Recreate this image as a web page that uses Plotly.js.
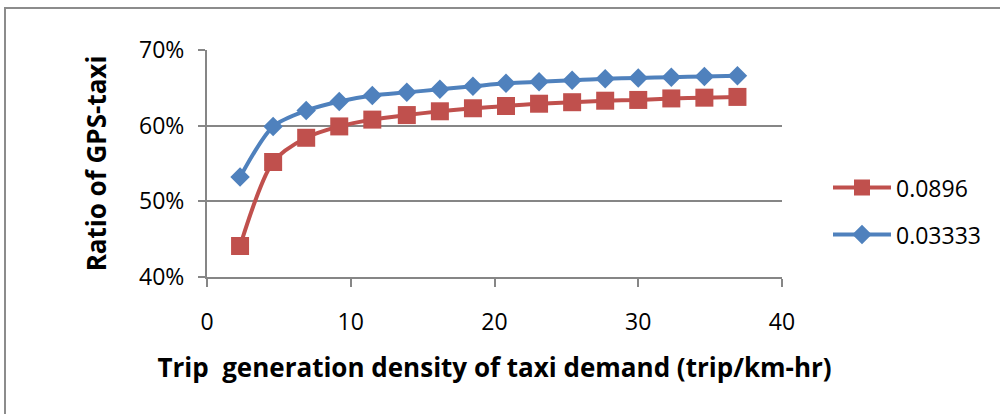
<!DOCTYPE html>
<html>
<head>
<meta charset="utf-8">
<script src="https://cdn.plot.ly/plotly-3.0.1.min.js"></script>
<style>
html,body{margin:0;padding:0;background:#fff;}
#chart{width:1000px;height:414px;}
</style>
</head>
<body>
<div id="chart"></div>
<script>
// Data
const tripDensity = [2.3, 4.6, 6.9, 9.2, 11.5, 13.9, 16.2, 18.5, 20.8, 23.1, 25.4, 27.7, 30.0, 32.3, 34.6, 36.9];
const ratio0896 = [44.1, 55.2, 58.4, 59.9, 60.8, 61.4, 61.9, 62.3, 62.6, 62.9, 63.1, 63.3, 63.4, 63.6, 63.7, 63.8];
const ratio03333 = [53.2, 59.9, 62.0, 63.2, 64.0, 64.4, 64.8, 65.2, 65.6, 65.8, 66.0, 66.2, 66.3, 66.4, 66.5, 66.6];
const seriesNames = ["0.0896", "0.03333"];
const yTickVals = [40, 50, 60, 70];
const yTickText = ["40%", "50%", "60%", "70%"];
const xTickVals = [0, 10, 20, 30, 40];

const FONT = "'Open Sans', sans-serif";

const traces = [
  {
    x: tripDensity, y: ratio0896, name: seriesNames[0], legendgroup: "a",
    mode: "lines+markers", type: "scatter",
    line: {color: "#C0504D", width: 4, shape: "spline", smoothing: 0.8},
    marker: {symbol: "square", size: 18, color: "#C0504D"}
  },
  {
    x: tripDensity, y: ratio03333, name: seriesNames[1], legendgroup: "b",
    mode: "lines+markers", type: "scatter",
    line: {color: "#4F81BD", width: 4, shape: "spline", smoothing: 0.8},
    marker: {symbol: "diamond", size: 15, color: "#4F81BD"}
  }
];

const layout = {
  width: 1000, height: 414, autosize: false,
  paper_bgcolor: "#fff", plot_bgcolor: "#fff",
  margin: {l: 207, r: 218, t: 50, b: 137},
  font: {family: FONT, size: 23, color: "#000"},
  showlegend: true,
  legend: {
    x: 1.08, y: 0.29, xanchor: "left", yanchor: "middle",
    traceorder: "grouped", tracegroupgap: 14,
    font: {family: FONT, size: 23, color: "#000"},
    itemwidth: 58, bgcolor: "rgba(0,0,0,0)"
  },
  xaxis: {
    range: [0, 40], tickvals: xTickVals, ticktext: xTickVals.map(String),
    showgrid: false, zeroline: false,
    showline: true, linecolor: "#868686", linewidth: 2,
    ticks: "outside", ticklen: 8, tickcolor: "#868686", tickwidth: 2,
    ticklabelstandoff: 15,
    tickfont: {family: FONT, size: 23, color: "#000"},
    title: {text: "Trip\u00a0 generation density of taxi demand (trip/km-hr)", standoff: 23,
            font: {family: FONT, size: 26, color: "#000", weight: "bold"}}
  },
  yaxis: {
    range: [40, 70], tickvals: yTickVals, ticktext: yTickText,
    showgrid: true, gridcolor: "#868686", gridwidth: 2, zeroline: false,
    showline: true, linecolor: "#868686", linewidth: 2,
    ticks: "outside", ticklen: 7, tickcolor: "#868686", tickwidth: 2,
    ticklabelstandoff: 9,
    tickfont: {family: FONT, size: 23, color: "#000"},
    title: {text: "Ratio of GPS-taxi", standoff: 25,
            font: {family: FONT, size: 26, color: "#000", weight: "bold"}}
  },
  shapes: [
    {type: "rect", xref: "paper", yref: "paper",
     x0: (5 - 207) / 575, x1: (1010 - 207) / 575,
     y0: (277 - 430) / 227, y1: (277 - 8) / 227,
     line: {color: "#8c8c8c", width: 2}, fillcolor: "rgba(0,0,0,0)", layer: "below"}
  ]
};

Plotly.newPlot("chart", traces, layout, {displayModeBar: false, staticPlot: true});
</script>
</body>
</html>
